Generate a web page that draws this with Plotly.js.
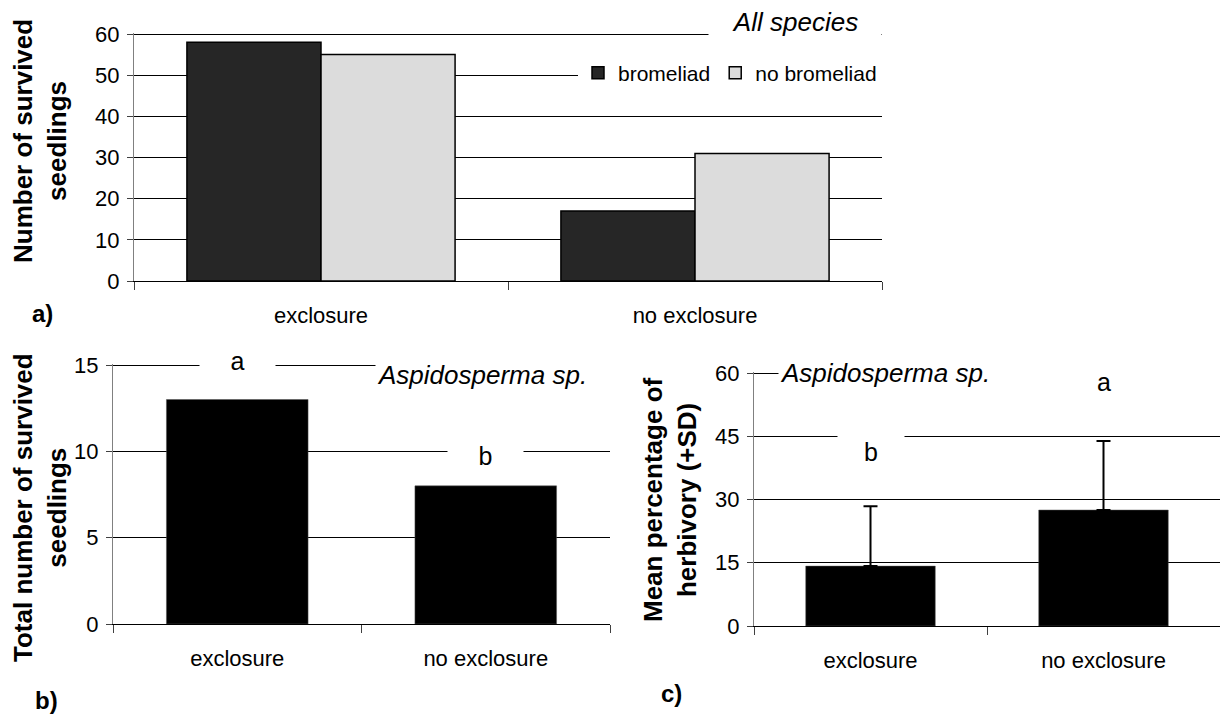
<!DOCTYPE html>
<html><head><meta charset="utf-8">
<script src="https://cdn.plot.ly/plotly-3.0.1.min.js"></script>
<style>html,body{margin:0;padding:0;background:#fff}</style>
</head><body><div id="chart" style="width:1220px;height:715px"></div>
<script>
// ---- data ----
const treatments = ["exclosure", "no exclosure"];
const seriesNames = ["bromeliad", "no bromeliad"];
const allBromeliad = [58, 17];
const allNoBromeliad = [55, 31];
const aspSurvived = [13, 8];
const aspHerbivoryMean = [14.2, 27.5];
const aspHerbivorySD = [14.2, 16.4];
const lettersB = ["a", "b"];
const lettersC = ["b", "a"];
const panelTags = ["a)", "b)", "c)"];
const yTitles = ["Number of survived<br>seedlings", "Total number of survived<br>seedlings", "Mean percentage of<br>herbivory (+SD)"];
const speciesLabels = ["All species", "Aspidosperma sp."];

// ---- layout helpers (pixel -> paper) ----
const W = 1220, H = 715;
const px = x => x / W;
const py = y => 1 - y / H;
const FONT = "Liberation Sans, Arial, sans-serif";

const traces = [
  {type: "bar", x: treatments, y: allBromeliad, name: seriesNames[0], xaxis: "x", yaxis: "y",
   marker: {color: "#262626", line: {color: "#000", width: 1.5}}},
  {type: "bar", x: treatments, y: allNoBromeliad, name: seriesNames[1], xaxis: "x", yaxis: "y",
   marker: {color: "#dcdcdc", line: {color: "#000", width: 1.5}}},
  {type: "bar", x: treatments, y: aspSurvived, xaxis: "x2", yaxis: "y2", width: 0.57, showlegend: false,
   marker: {color: "#000", line: {color: "#555", width: 0.5}}},
  {type: "bar", x: treatments, y: aspHerbivoryMean, xaxis: "x3", yaxis: "y3", width: 0.556, showlegend: false,
   marker: {color: "#000", line: {color: "#555", width: 0.5}},
   error_y: {type: "data", array: aspHerbivorySD, arrayminus: aspHerbivorySD.map(() => 0), symmetric: false,
             color: "#000", thickness: 2, width: 7}}
];

function xAx(dom, anchor) {
  return {domain: dom, anchor: anchor, type: "category", range: [-0.5, 1.5], tickson: "boundaries",
    ticks: "outside", ticklen: 8, tickcolor: "#404040", showline: true, linecolor: "#000", linewidth: 1,
    showgrid: false, zeroline: false, tickfont: {size: 22, color: "#000"}, ticklabelstandoff: 15, fixedrange: true};
}
// y axis: extend the range a hair (1.5 px) above the top tick so its gridline is kept
function yAx(pxBottom, pxTop, anchor, vmax, dtick) {
  const pad = 1.5;
  const perPx = vmax / (pxBottom - pxTop);
  return {domain: [py(pxBottom), py(pxTop - pad)], anchor: anchor, range: [0, vmax + pad * perPx], dtick: dtick, tick0: 0,
    ticks: "outside", ticklen: 6,
    tickcolor: "#404040", showline: true, linecolor: "#808080", linewidth: 1, showgrid: true,
    gridcolor: "#000", gridwidth: 1, zeroline: false, tickfont: {size: 22, color: "#000"}, ticklabelstandoff: 3,
    fixedrange: true};
}

const ann = [];
// y-axis titles
const titlePos = [[40, 141], [40, 508], [670, 500]];
yTitles.forEach((t, i) => ann.push({xref: "paper", yref: "paper", x: px(titlePos[i][0]), y: py(titlePos[i][1]),
  xanchor: "center", yanchor: "middle", textangle: -90, showarrow: false, text: "<b>" + t + "</b>",
  font: {size: 26, color: "#000"}}));
// panel tags
const tagPos = [[42, 313], [46, 700], [671, 693]];
panelTags.forEach((t, i) => ann.push({xref: "paper", yref: "paper", x: px(tagPos[i][0]), y: py(tagPos[i][1]),
  xanchor: "center", yanchor: "middle", showarrow: false, text: "<b>" + t + "</b>", font: {size: 24, color: "#000"}}));
// species labels (white boxes mask the gridline)
ann.push({xref: "paper", yref: "paper", x: px(795), y: py(22), xanchor: "center", yanchor: "middle", width: 170,
  showarrow: false, bgcolor: "#fff", text: "<i>" + speciesLabels[0] + "</i>", font: {size: 26, color: "#000"}});
ann.push({xref: "paper", yref: "paper", x: px(375), y: py(375), xanchor: "left", yanchor: "middle", width: 236, align: "left",
  showarrow: false, bgcolor: "#fff", text: "<i>" + speciesLabels[1] + "</i>", font: {size: 26, color: "#000"}});
ann.push({xref: "paper", yref: "paper", x: px(778), y: py(373), xanchor: "left", yanchor: "middle", width: 442, align: "left",
  showarrow: false, bgcolor: "#fff", text: "<i>" + speciesLabels[1] + "</i>", font: {size: 26, color: "#000"}});
// significance letters
const lbY = [361, 456];
lettersB.forEach((t, i) => ann.push({xref: "x2", yref: "paper", x: treatments[i], y: py(lbY[i]), xanchor: "center",
  yanchor: "middle", width: 73, showarrow: false, bgcolor: "#fff", text: t, font: {size: 25, color: "#000"}}));
const lcY = [452, 382];
const lcH = [36, 30];
lettersC.forEach((t, i) => ann.push({xref: "x3", yref: "paper", x: treatments[i], y: py(lcY[i]), xanchor: "center",
  yanchor: "middle", width: 64, height: lcH[i], showarrow: false, bgcolor: "#fff", text: t, font: {size: 25, color: "#000"}}));

const layout = {
  width: W, height: H, margin: {l: 0, r: 0, t: 0, b: 0}, paper_bgcolor: "#fff", plot_bgcolor: "rgba(0,0,0,0)",
  font: {family: FONT, color: "#000"},
  barmode: "group", bargap: 0.283, bargroupgap: 0,
  showlegend: true,
  legend: {orientation: "h", x: px(882), xanchor: "right", y: py(73), yanchor: "middle", bgcolor: "#fff",
           font: {size: 21}, itemwidth: 30, traceorder: "normal"},
  xaxis: xAx([px(134), px(882)], "y"),
  yaxis: yAx(281, 34, "x", 60, 10),
  xaxis2: xAx([px(113), px(610)], "y2"),
  yaxis2: yAx(624, 365, "x2", 15, 5),
  xaxis3: xAx([px(754), 1], "y3"),
  yaxis3: yAx(626, 373, "x3", 60, 15),
  annotations: ann
};

Plotly.newPlot("chart", traces, layout, {staticPlot: true, displayModeBar: false});
</script></body></html>
